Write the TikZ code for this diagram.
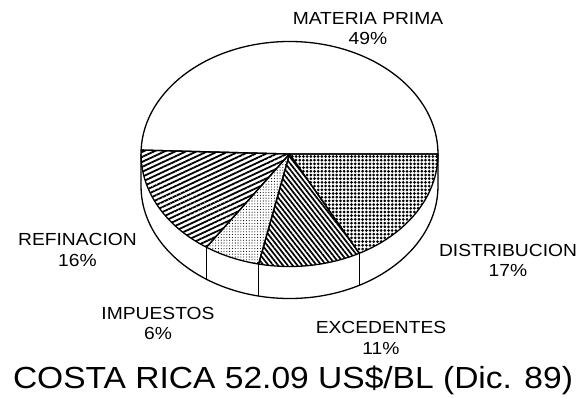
\documentclass[tikz,border=0pt]{standalone}
\usepackage{fontspec}
\setmainfont{Liberation Sans}[FakeStretch=1.1]
\usetikzlibrary{patterns.meta}

\begin{document}
\begin{tikzpicture}[x=1pt, y=1pt,
  slice/.style={draw, line width=1.3pt, line join=round},
  matprima/.style={slice, fill=white},
  refin/.style={slice, pattern={Lines[angle=25, distance=4.5pt, line width=1.8pt]}},
  impu/.style={slice, pattern={Dots[distance=2.8pt, radius=0.55pt]}},
  exced/.style={slice, pattern={Lines[angle=-52, distance=3.8pt, line width=1.7pt]}},
  distrib/.style={slice, pattern={Dots[distance=3.7pt, radius=1.5pt]}},
  lbl/.style={font=\fontsize{17.5}{20.5}\selectfont, align=center, inner sep=0pt}]
  \useasboundingbox (0,0) rectangle (583,397);
  \def\cx{289.5} \def\cy{243} \def\rx{148.5} \def\ry{112.5} \def\dep{32}

  % side of the pie
  \draw[slice, fill=white] (\cx-\rx,\cy) -- ++(0,-\dep)
    arc[start angle=180, end angle=360, x radius=\rx, y radius=\ry] -- ++(0,\dep);
  \foreach \t in {236,258,298}
    \draw[slice] ({\cx+\rx*cos(\t)},{\cy+\ry*sin(\t)}) -- ++(0,-\dep);

  % top face
  \foreach \a/\b/\s in {0/178/matprima, 178/236/refin, 236/258/impu, 258/298/exced, 298/360/distrib}
    \draw[\s] (\cx,\cy) -- ({\cx+\rx*cos(\a)},{\cy+\ry*sin(\a)})
      arc[start angle=\a, end angle=\b, x radius=\rx, y radius=\ry] -- cycle;

  \node (lmatprima) [lbl] at (368,368.5) {MATERIA PRIMA\\49\%};
  \node (lrefin) [lbl] at (77.5,147) {REFINACION\\16\%};
  \node (ldistrib) [lbl] at (508,136.5) {DISTRIBUCION\\17\%};
  \node (limpu) [lbl] at (158,73.3) {IMPUESTOS\\6\%};
  \node (lexced) [lbl] at (381,59) {EXCEDENTES\\11\%};
  \node (title) [lbl, font=\fontsize{30.5}{34}\selectfont] at (293,16.5) {COSTA RICA 52.09 US\$/BL (Dic. 89)};
\end{tikzpicture}
\end{document}
